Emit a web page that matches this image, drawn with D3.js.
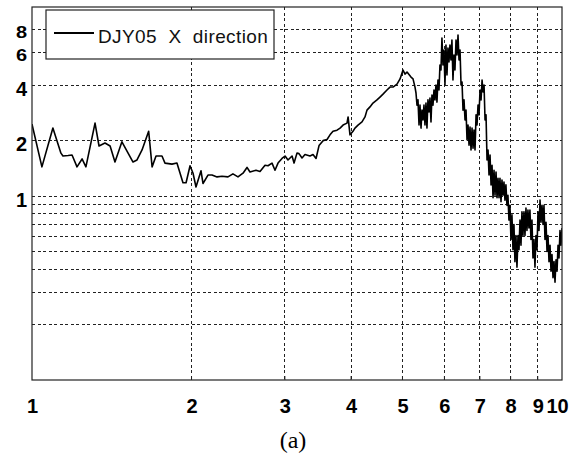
<!DOCTYPE html>
<html>
<head>
<meta charset="utf-8">
<script src="https://cdn.jsdelivr.net/npm/d3@7"></script>
<style>
  body { margin: 0; background: #fff; }
  svg { display: block; }
</style>
</head>
<body>
<div id="chart"></div>
<script>
(function () {
  "use strict";

  // frequency (Hz)
  const freqHz = [
    1.000, 1.044, 1.095, 1.134, 1.144, 1.170, 1.190, 1.216, 1.243, 1.264,
    1.315, 1.338, 1.373, 1.404, 1.434, 1.478, 1.551, 1.578, 1.613, 1.660,
    1.685, 1.714, 1.759, 1.782, 1.837, 1.877, 1.927, 1.953, 1.987, 2.013,
    2.039, 2.084, 2.102, 2.148, 2.186, 2.234, 2.283, 2.343, 2.394, 2.447,
    2.501, 2.545, 2.578, 2.646, 2.693, 2.752, 2.788, 2.837, 2.874, 2.912,
    2.963, 3.002, 3.041, 3.095, 3.122, 3.162, 3.190, 3.232, 3.274, 3.346,
    3.390, 3.435, 3.480, 3.541, 3.603, 3.650, 3.698, 3.763, 3.813, 3.863,
    3.930, 3.948, 3.981, 4.033, 4.068, 4.122, 4.194, 4.249, 4.286, 4.342,
    4.399, 4.476, 4.535, 4.595, 4.675, 4.737, 4.799, 4.883, 4.948, 5.012,
    5.056, 5.100, 5.189, 5.235, 5.280, 5.303,
    5.326, 5.349, 5.373, 5.396, 5.420, 5.443, 5.467, 5.490, 5.514, 5.538,
    5.562, 5.586, 5.611, 5.635, 5.660, 5.684, 5.709, 5.734, 5.759, 5.784,
    5.809, 5.834, 5.860, 5.885, 5.911, 5.936, 5.962, 5.988, 6.014, 6.040,
    6.067, 6.093, 6.120, 6.146, 6.173, 6.199, 6.227, 6.254, 6.281, 6.310,
    6.337, 6.365, 6.393, 6.421, 6.449, 6.477, 6.505, 6.533, 6.562, 6.590,
    6.619, 6.648, 6.677, 6.706, 6.735, 6.765, 6.794, 6.823, 6.853, 6.884,
    6.913, 6.943, 6.973, 7.004, 7.035, 7.066, 7.096, 7.127, 7.158, 7.189,
    7.220, 7.252, 7.283, 7.315, 7.347, 7.379, 7.411, 7.443, 7.475, 7.508,
    7.541, 7.573, 7.606, 7.638, 7.672, 7.705, 7.738, 7.772, 7.805, 7.838,
    7.873, 7.907, 7.941, 7.976, 8.011, 8.046, 8.081, 8.116, 8.151, 8.187,
    8.223, 8.260, 8.296, 8.332, 8.368, 8.403, 8.440, 8.477, 8.514, 8.551,
    8.588, 8.625, 8.663, 8.700, 8.738, 8.777, 8.815, 8.853, 8.892, 8.930,
    8.970, 9.010, 9.049, 9.089, 9.128, 9.168, 9.208, 9.247, 9.288, 9.329,
    9.370, 9.410, 9.451, 9.493, 9.534, 9.575, 9.617, 9.659, 9.701, 9.743,
    9.786, 9.829, 9.871, 9.913, 9.956, 10.000
  ];

  // amplitude ratio at each frequency
  const amplitude = [
    2.46, 1.44, 2.34, 1.71, 1.65, 1.66, 1.67, 1.44, 1.59, 1.44,
    2.49, 1.87, 1.94, 1.87, 1.53, 1.97, 1.53, 1.57, 1.78, 2.25,
    1.44, 1.65, 1.65, 1.51, 1.49, 1.51, 1.18, 1.18, 1.46, 1.33,
    1.12, 1.37, 1.17, 1.30, 1.30, 1.27, 1.28, 1.27, 1.32, 1.27,
    1.33, 1.43, 1.35, 1.38, 1.36, 1.47, 1.46, 1.51, 1.38, 1.51,
    1.60, 1.65, 1.57, 1.65, 1.51, 1.71, 1.70, 1.61, 1.68, 1.65,
    1.68, 1.60, 1.88, 2.00, 2.03, 2.15, 2.25, 2.28, 2.34, 2.43,
    2.49, 2.69, 2.15, 2.25, 2.34, 2.43, 2.53, 2.69, 2.93, 3.05,
    3.20, 3.33, 3.45, 3.58, 3.77, 3.91, 3.91, 4.06, 4.33, 4.84,
    4.60, 4.72, 4.43, 4.33, 3.91, 3.63,
    3.12, 3.33, 2.43, 3.12, 2.34, 2.93, 2.59, 3.12, 2.43, 3.20,
    2.34, 3.33, 2.86, 3.41, 2.53, 3.54, 3.12, 3.77, 3.33, 4.01,
    3.24, 4.27, 3.77, 5.15, 4.84, 7.22, 5.15, 6.22, 4.01, 6.62,
    4.55, 6.37, 5.35, 6.62, 5.49, 7.05, 4.27, 5.84, 4.84, 7.05,
    5.84, 7.50, 5.49, 6.22, 4.01, 4.16, 2.93, 3.33, 2.59, 2.93,
    2.02, 2.43, 1.89, 2.37, 1.78, 2.34, 1.82, 2.28, 1.78, 2.76,
    2.43, 3.12, 2.76, 3.77, 3.33, 4.27, 3.68, 4.01, 2.59, 2.76,
    1.57, 1.78, 1.30, 1.67, 1.15, 1.47, 0.98, 1.38, 1.01, 1.35,
    0.98, 1.25, 0.98, 1.25, 0.93, 1.22, 1.01, 1.19, 0.95, 1.15,
    0.89, 1.01, 0.74, 0.89, 0.58, 0.79, 0.51, 0.70, 0.44, 0.61,
    0.41, 0.61, 0.51, 0.74, 0.54, 0.82, 0.61, 0.82, 0.61, 0.86,
    0.65, 0.84, 0.67, 0.84, 0.58, 0.74, 0.46, 0.58, 0.41, 0.61,
    0.51, 0.82, 0.65, 0.95, 0.72, 0.89, 0.70, 0.89, 0.58, 0.72,
    0.50, 0.61, 0.44, 0.54, 0.39, 0.48, 0.36, 0.44, 0.34, 0.45,
    0.39, 0.54, 0.46, 0.65, 0.54, 0.67
  ];

  const xTicks = [1, 2, 3, 4, 5, 6, 7, 8, 9, 10];
  const yGrid = [0.2, 0.3, 0.4, 0.5, 0.6, 0.7, 0.8, 0.9, 1, 2, 4, 6, 8];
  const yLabels = [1, 2, 4, 6, 8];
  const xDomain = [1, 10];
  const yDomain = [0.1, 10.65];
  const seriesName = "DJY05  X  direction";
  const caption = "(a)";

  const width = 584;
  const height = 468;
  const margin = { top: 7, right: 22, bottom: 88, left: 32 };
  const innerW = width - margin.left - margin.right;
  const innerH = height - margin.top - margin.bottom;

  const svg = d3
    .select("#chart")
    .append("svg")
    .attr("width", width)
    .attr("height", height);

  const x = d3.scaleLog().domain(xDomain).range([0, innerW]);
  const y = d3.scaleLog().domain(yDomain).range([innerH, 0]);

  const g = svg
    .append("g")
    .attr("transform", `translate(${margin.left},${margin.top})`);

  // dashed grid (crisp, like the original raster)
  g.append("g")
    .attr("shape-rendering", "crispEdges")
    .selectAll("line")
    .data(xTicks.slice(1, -1))
    .join("line")
    .attr("x1", (d) => x(d))
    .attr("x2", (d) => x(d))
    .attr("y1", 0)
    .attr("y2", innerH)
    .attr("stroke", "#222")
    .attr("stroke-width", 1)
    .attr("stroke-dasharray", "3,2.5");

  g.append("g")
    .attr("shape-rendering", "crispEdges")
    .selectAll("line")
    .data(yGrid)
    .join("line")
    .attr("x1", 0)
    .attr("x2", innerW)
    .attr("y1", (d) => y(d))
    .attr("y2", (d) => y(d))
    .attr("stroke", "#222")
    .attr("stroke-width", 1)
    .attr("stroke-dasharray", "3,2.5");

  // the curve
  g.append("clipPath")
    .attr("id", "plot-clip")
    .append("rect")
    .attr("width", innerW)
    .attr("height", innerH);

  const line = d3
    .line()
    .x((d) => x(d[0]))
    .y((d) => y(d[1]));

  g.append("path")
    .datum(d3.zip(freqHz, amplitude))
    .attr("clip-path", "url(#plot-clip)")
    .attr("fill", "none")
    .attr("stroke", "#000")
    .attr("stroke-width", 1.6)
    .attr("stroke-linejoin", "round")
    .attr("d", line);

  // frame
  g.append("rect")
    .attr("width", innerW)
    .attr("height", innerH)
    .attr("fill", "none")
    .attr("stroke", "#222")
    .attr("stroke-width", 1.2);

  // x axis labels
  const xAxis = g
    .append("g")
    .attr("transform", `translate(0,${innerH})`)
    .call(
      d3.axisBottom(x).tickValues(xTicks).tickFormat(d3.format("d")).tickSize(0).tickPadding(19)
    );
  xAxis.select(".domain").remove();
  xAxis
    .selectAll("text")
    .attr("font-family", "'Liberation Sans', Arial, sans-serif")
    .attr("font-weight", "bold")
    .attr("font-size", 20)
    .attr("fill", "#000")
    .attr("dx", (d) => (d === 10 ? -5 : 0));

  // small inner ticks at the bottom
  g.append("g")
    .selectAll("line")
    .data(xTicks.slice(1, -1))
    .join("line")
    .attr("x1", (d) => x(d))
    .attr("x2", (d) => x(d))
    .attr("y1", innerH)
    .attr("y2", innerH - 4)
    .attr("stroke", "#222");

  // y axis labels
  const yAxis = g
    .append("g")
    .call(d3.axisLeft(y).tickValues(yLabels).tickFormat(d3.format("d")).tickSize(0).tickPadding(5));
  yAxis.select(".domain").remove();
  yAxis
    .selectAll("text")
    .attr("font-family", "'Liberation Sans', Arial, sans-serif")
    .attr("font-weight", "bold")
    .attr("font-size", 20)
    .attr("fill", "#000")
    .attr("dy", "0.5em")
    .attr("transform", (d) => (d >= 6 ? "scale(1,0.78)" : null));

  // legend
  const legend = svg.append("g").attr("transform", "translate(46,10)");
  legend
    .append("rect")
    .attr("width", 228)
    .attr("height", 49)
    .attr("fill", "#fff")
    .attr("stroke", "#222")
    .attr("stroke-width", 1.2);
  legend
    .append("line")
    .attr("x1", 8)
    .attr("x2", 48)
    .attr("y1", 23)
    .attr("y2", 23)
    .attr("stroke", "#000")
    .attr("stroke-width", 2);
  legend
    .append("text")
    .attr("x", 52)
    .attr("y", 33)
    .attr("font-family", "'Liberation Sans', Arial, sans-serif")
    .attr("font-size", 19)
    .attr("letter-spacing", 0.4)
    .style("white-space", "pre")
    .attr("fill", "#111")
    .text(seriesName);

  // caption
  svg
    .append("text")
    .attr("x", 293)
    .attr("y", 448)
    .attr("text-anchor", "middle")
    .attr("font-family", "'Liberation Serif', 'Times New Roman', serif")
    .attr("font-size", 24)
    .attr("fill", "#000")
    .text(caption);
})();
</script>
</body>
</html>
